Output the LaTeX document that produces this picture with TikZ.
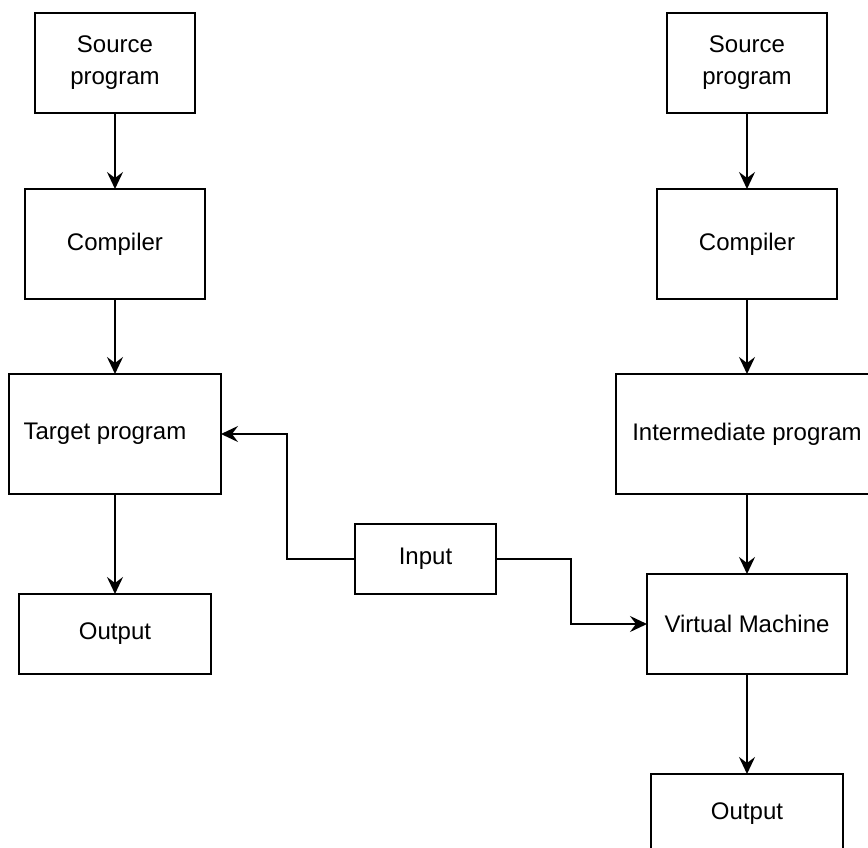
\documentclass[tikz,border=0pt]{standalone}
\usepackage{fontspec}
\setmainfont{Liberation Sans}
\usetikzlibrary{arrows.meta}
\usetikzlibrary{positioning}
\tikzset{
  box/.style = {rectangle, draw=black, line width=2pt, inner sep=0pt, outer sep=0pt, align=center, font=\fontsize{24}{32}\selectfont},
  flow/.style = {-{Stealth[length=17pt, width=16pt, inset=6pt]}, line width=2pt},
}

\begin{document}
\begin{tikzpicture}[x=1pt, y=-1pt]
\useasboundingbox (0,0) rectangle (868,847);

% compiler side
\node[box, minimum width=160pt, minimum height=100pt] (src1) at (115,63) {Source\\program};
\node[box, minimum width=180pt, minimum height=110pt] (comp1) at (115,244) {Compiler};
\node[box, minimum width=212pt, minimum height=120pt] (tgt) at (115,434) {Target program\hspace{20pt}};
\node[box, minimum width=192pt, minimum height=80pt] (out1) at (115,634) {Output};

% interpreter side
\node[box, minimum width=160pt, minimum height=100pt] (src2) at (747,63) {Source\\program};
\node[box, minimum width=180pt, minimum height=110pt] (comp2) at (747,244) {Compiler};
\node[box, minimum width=262pt, minimum height=120pt] (inter) at (747,434) {Intermediate program};
\node[box, minimum width=200pt, minimum height=100pt] (vm) at (747,624) {Virtual Machine};
\node[box, minimum width=192pt, minimum height=80pt] (out2) at (747,814) {Output};

\node[box, minimum width=141pt, minimum height=70pt] (inp) at (425.5,559) {Input};

\draw (src1) edge[flow] (comp1);
\draw (comp1) edge[flow] (tgt);
\draw (tgt) edge[flow] (out1);

\draw (src2) edge[flow] (comp2);
\draw (comp2) edge[flow] (inter);
\draw (inter) edge[flow] (vm);
\draw (vm) edge[flow] (out2);

\draw[flow] (inp.west) -- ++(-68,0) |- (tgt.east);
\draw[flow] (inp.east) -- ++(75,0) |- (vm.west);

\end{tikzpicture}
\end{document}
